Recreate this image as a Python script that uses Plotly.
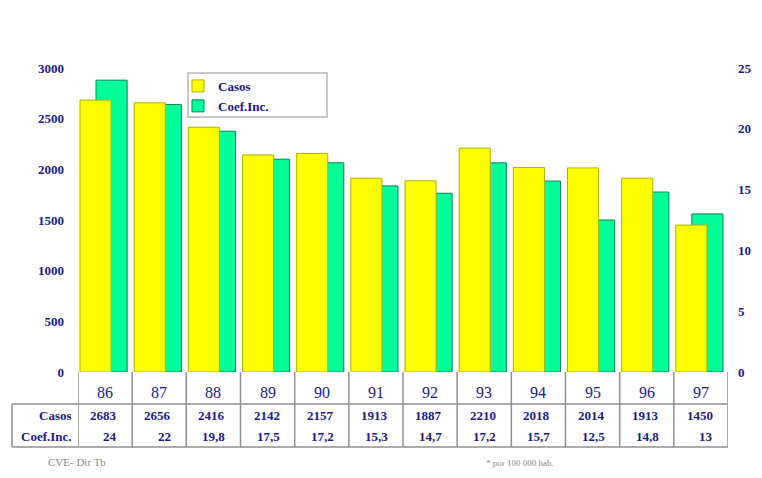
import plotly.graph_objects as go

years = ["86", "87", "88", "89", "90", "91", "92", "93", "94", "95", "96", "97"]
casos = [2683, 2656, 2416, 2142, 2157, 1913, 1887, 2210, 2018, 2014, 1913, 1450]
coef = [24, 22, 19.8, 17.5, 17.2, 15.3, 14.7, 17.2, 15.7, 12.5, 14.8, 13]
casos_txt = ["2683", "2656", "2416", "2142", "2157", "1913", "1887", "2210", "2018", "2014", "1913", "1450"]
coef_txt = ["24", "22", "19,8", "17,5", "17,2", "15,3", "14,7", "17,2", "15,7", "12,5", "14,8", "13"]
left_ticks = [0, 500, 1000, 1500, 2000, 2500, 3000]
right_ticks = [0, 5, 10, 15, 20, 25]

# the page body adds an 8px margin, so the figure is 16px smaller than the window
OFF = 8
W, H = 762 - 2 * OFF, 478 - 2 * OFF
NAVY = "#1a1a8c"
GRID = "#909090"
FONT = "Liberation Serif"

def px(x):
    return (x - OFF) / W

def py(y):
    return (H - (y - OFF)) / H

fig = go.Figure()

fig.add_trace(go.Bar(
    x=years, y=coef, name="Coef.Inc.", yaxis="y",
    marker=dict(color="#00FF99", line=dict(color="#00805a", width=1)),
    offset=-0.167, width=0.574, legendrank=2,
))
fig.add_trace(go.Bar(
    x=years, y=casos, name="Casos", yaxis="y2",
    marker=dict(color="#FFFF00", line=dict(color="#b0b000", width=1)),
    offset=-0.463, width=0.574, legendrank=1,
))

y0, y1 = py(372), py(68)
x0, x1 = px(78), px(728)

tickf = dict(family=FONT, size=13, color=NAVY, weight="bold")
fig.update_layout(
    width=W, height=H, autosize=False,
    margin=dict(l=0, r=0, t=0, b=0, autoexpand=False),
    paper_bgcolor="white", plot_bgcolor="white",
    barmode="overlay",
    font=dict(family=FONT, color=NAVY),
    xaxis=dict(domain=[x0, x1], type="category", range=[-0.5, 11.5], automargin=False,
               showticklabels=False, showline=False, showgrid=False, zeroline=False, ticks=""),
    yaxis=dict(domain=[y0, y1], side="right", range=[0, 25], tickvals=right_ticks,
               automargin=False,
               showgrid=False, zeroline=False, showline=False, ticks="",
               ticklabelstandoff=9, tickfont=tickf),
    yaxis2=dict(overlaying="y", side="left", range=[0, 3000], tickvals=left_ticks,
                automargin=False,
                showgrid=False, zeroline=False, showline=False, ticks="",
                ticklabelstandoff=13, tickfont=tickf),
    legend=dict(x=px(178), y=py(71), xanchor="left", yanchor="top",
                borderwidth=0, bgcolor="rgba(0,0,0,0)",
                font=dict(family=FONT, size=13, color=NAVY, weight="bold"),
                tracegroupgap=0, itemwidth=30),
    showlegend=True,
)

shapes = []
# legend frame
shapes.append(dict(type="rect", xref="paper", yref="paper", x0=px(188), x1=px(327),
                   y0=py(117), y1=py(73), line=dict(color="#c8c8c8", width=2),
                   fillcolor="white", layer="above"))
# vertical table lines
for i in range(13):
    shapes.append(dict(type="line", xref="x", yref="paper", x0=i - 0.5, x1=i - 0.5,
                       y0=py(372), y1=py(447), line=dict(color=GRID, width=1.5)))
# horizontal lines
for yy in (404, 447):
    shapes.append(dict(type="line", xref="paper", yref="paper", x0=px(12), x1=px(728),
                       y0=py(yy), y1=py(yy), line=dict(color=GRID, width=1.5)))
shapes.append(dict(type="line", xref="paper", yref="paper", x0=px(12), x1=px(12),
                   y0=py(404), y1=py(447), line=dict(color=GRID, width=1.5)))
fig.update_layout(shapes=shapes)

cellf = dict(family=FONT, size=13, color=NAVY, weight="bold")
ann = []
for i, yr in enumerate(years):
    ann.append(dict(x=i, xref="x", y=py(392), yref="paper", text=yr, showarrow=False,
                    yanchor="middle", xanchor="center",
                    font=dict(family=FONT, size=16, color=NAVY)))
    ann.append(dict(x=i, xref="x", y=py(415), yref="paper", text=casos_txt[i], showarrow=False,
                    yanchor="middle", xanchor="right", xshift=14, font=cellf))
    ann.append(dict(x=i, xref="x", y=py(436), yref="paper", text=coef_txt[i], showarrow=False,
                    yanchor="middle", xanchor="right", xshift=14, font=cellf))
for label, yy in (("Casos", 415), ("Coef.Inc.", 436)):
    ann.append(dict(x=px(74), xref="paper", y=py(yy), yref="paper", text=label, showarrow=False,
                    yanchor="middle", xanchor="right", font=cellf))
ann.append(dict(x=px(46), xref="paper", y=py(469), yref="paper", text="CVE- Dir Tb", showarrow=False,
                yanchor="bottom", xanchor="left", yshift=-1,
                font=dict(family=FONT, size=11, color="#8a8a8a")))
ann.append(dict(x=px(484), xref="paper", y=py(469), yref="paper", text="* por 100 000 hab.", showarrow=False,
                yanchor="bottom", xanchor="left", yshift=-1,
                font=dict(family=FONT, size=9, color="#8a8a8a")))
fig.update_layout(annotations=ann)

fig.write_html("out.html")
